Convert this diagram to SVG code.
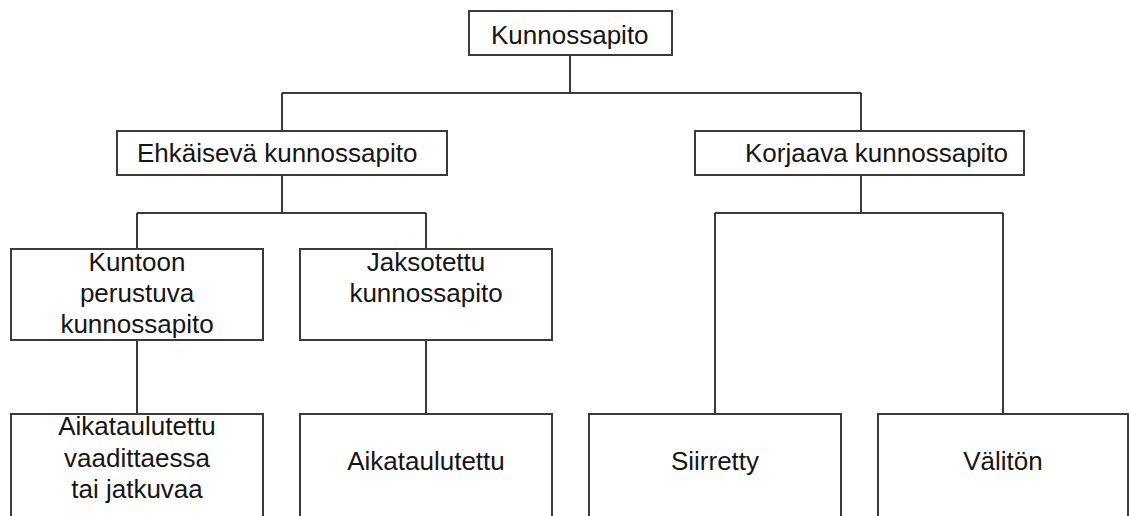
<svg xmlns="http://www.w3.org/2000/svg" width="1129" height="516" viewBox="0 0 1129 516">
<style>
.box{fill:#fff;stroke:#3a3a3a;stroke-width:2}
.ln{fill:none;stroke:#3a3a3a;stroke-width:2}
text{font-family:"Liberation Sans",Arial,sans-serif;font-size:26px;fill:#151515}
.c{text-anchor:middle}
</style>
<rect width="1129" height="516" fill="#fff"/>
<g id="connectors">
<path class="ln" d="M570 55V93M282 93H861M282 93V131M861 93V131"/>
<path class="ln" d="M282 175V213M137 213H426M137 213V249M426 213V249"/>
<path class="ln" d="M861 175V213M715 213H1003M715 213V414M1003 213V414"/>
<path class="ln" d="M137 340V414M426 340V414"/>
</g>
<g id="n-kunnossapito"><rect class="box" x="469" y="11" width="203" height="44"/><text x="491" y="44">Kunnossapito</text></g>
<g id="n-ehkaiseva"><rect class="box" x="117" y="131" width="330" height="44"/><text x="137" y="162">Ehkäisevä kunnossapito</text></g>
<g id="n-korjaava"><rect class="box" x="695" y="131" width="329" height="44"/><text x="745" y="162">Korjaava kunnossapito</text></g>
<g id="n-kuntoon"><rect class="box" x="11" y="249" width="252" height="91"/><text class="c" x="137" y="271">Kuntoon</text><text class="c" x="137" y="302">perustuva</text><text class="c" x="137" y="333">kunnossapito</text></g>
<g id="n-jaksotettu"><rect class="box" x="300" y="249" width="252" height="91"/><text class="c" x="426" y="271">Jaksotettu</text><text class="c" x="426" y="302">kunnossapito</text></g>
<g id="n-aikataulutettu-vaadittaessa"><rect class="box" x="11" y="414" width="252" height="120"/><text class="c" x="137" y="435">Aikataulutettu</text><text class="c" x="137" y="467">vaadittaessa</text><text class="c" x="137" y="498">tai jatkuvaa</text></g>
<g id="n-aikataulutettu"><rect class="box" x="300" y="414" width="252" height="120"/><text class="c" x="426" y="470">Aikataulutettu</text></g>
<g id="n-siirretty"><rect class="box" x="589" y="414" width="252" height="120"/><text class="c" x="715" y="470">Siirretty</text></g>
<g id="n-valiton"><rect class="box" x="878" y="414" width="250" height="120"/><text class="c" x="1003" y="470">Välitön</text></g>
</svg>
